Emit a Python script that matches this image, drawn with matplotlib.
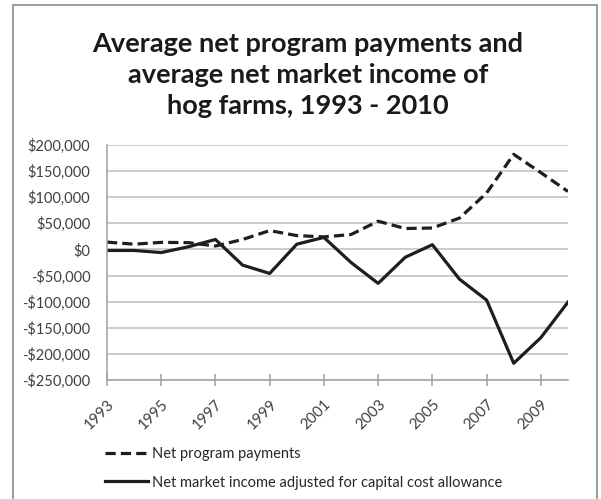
"""
Average net program payments and average net market income of hog farms
"""
import matplotlib
matplotlib.use("Agg")
import matplotlib.pyplot as plt
from matplotlib.patches import Rectangle

# data
years = list(range(1993, 2011))
program_payments = [14000, 10000, 13500, 13000, 6500, 19000, 36000, 26500, 24000,
                    28500, 54000, 40000, 41000, 60000, 108000, 182000, 147000, 111000]
market_income = [-2000, -2000, -6000, 5000, 19000, -30000, -46000, 10000, 23000,
                 -25000, -65000, -15000, 9000, -57000, -97000, -218000, -169000, -101000]
tick_years = list(range(1993, 2011, 2))
y_ticks = list(range(-250000, 200001, 50000))

plt.rcParams['font.family'] = ['Lato', 'DejaVu Sans']

fig = plt.figure(figsize=(6.01, 4.99), dpi=100)
ax = fig.add_axes([0.178, 0.2385, 0.767, 0.471])

line_col = '#1e1e1e'
ax.plot(years, program_payments, color=line_col, lw=2.3, dashes=(3.2, 1.6),
        label='Net program payments')
ax.plot(years, market_income, color=line_col, lw=2.3,
        label='Net market income adjusted for capital cost allowance')

ax.set_xlim(1993, 2010)
ax.set_ylim(-250000, 200000)
ax.set_yticks(y_ticks)
ax.set_yticklabels([('-$' if v < 0 else '$') + format(abs(v), ',') for v in y_ticks])
ax.set_xticks(tick_years)
ax.set_xticklabels([str(y) for y in tick_years], rotation=45, ha='right',
                   rotation_mode='anchor')

ax.grid(axis='y', color='#bfbfbf', lw=1.1)
ax.set_axisbelow(True)
for s in ['top', 'right']:
    ax.spines[s].set_visible(False)
for s in ['left', 'bottom']:
    ax.spines[s].set_color('#a0a0a0')
    ax.spines[s].set_linewidth(1.1)
ax.tick_params(axis='y', length=0, pad=12, labelsize=10.5, labelcolor='#404040')
ax.tick_params(axis='x', direction='inout', length=9, color='#a0a0a0', width=1.1,
               pad=8, labelsize=11, labelcolor='#404040')

# title
fig.text(0.5125, 0.85, 'Average net program payments and\naverage net market income of\nhog farms, 1993 - 2010',
         ha='center', va='center', fontsize=19.5, fontweight='bold', color='#1a1a1a',
         linespacing=1.35)

# legend below the plot
ax.legend(loc='upper left', bbox_to_anchor=(-0.018, -0.26), frameon=False,
          fontsize=10.5, handlelength=2.95, handletextpad=0.3, labelspacing=1.0,
          labelcolor='#262626', borderaxespad=0)

# outer chart border
fig.patches.append(Rectangle((13 / 601, -0.05), 584 / 601, 1.04, transform=fig.transFigure,
                             fill=False, edgecolor='#8c8c8c', lw=1.2))

fig.savefig('out.png', dpi=100)
